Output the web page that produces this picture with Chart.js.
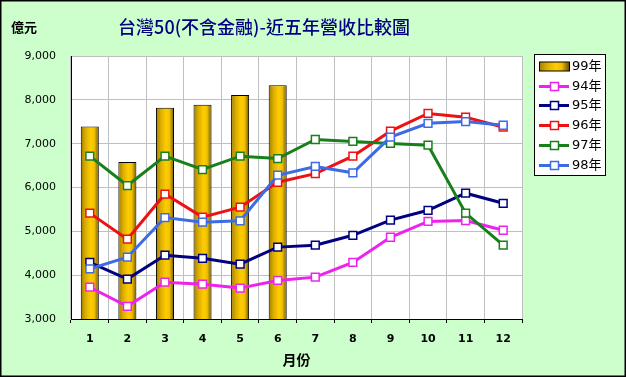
<!DOCTYPE html>
<html>
<head>
<meta charset="utf-8">
<script src="https://cdn.jsdelivr.net/npm/chart.js@4.4.1/dist/chart.umd.min.js"></script>
<style>
  html, body { margin: 0; padding: 0; background: #ccffcc; }
</style>
</head>
<body>
<canvas id="grafico" width="626" height="377"></canvas>
<script>
// 台灣50(不含金融) 月營收, 單位: 億元
const meses = ['1', '2', '3', '4', '5', '6', '7', '8', '9', '10', '11', '12'];
const receita99 = [7390, 6580, 7820, 7890, 8110, 8335];
const receita94 = [3725, 3290, 3840, 3795, 3705, 3880, 3955, 4290, 4865, 5225, 5245, 5025];
const receita95 = [4290, 3910, 4455, 4385, 4250, 4640, 4685, 4910, 5255, 5480, 5870, 5640];
const receita96 = [5415, 4820, 5850, 5325, 5550, 6120, 6315, 6715, 7285, 7690, 7605, 7375];
const receita97 = [6715, 6045, 6715, 6410, 6715, 6660, 7095, 7050, 7005, 6965, 5415, 4685];
const receita98 = [4145, 4410, 5315, 5210, 5240, 6280, 6480, 6335, 7150, 7465, 7505, 7420];
const ticksY = [3000, 4000, 5000, 6000, 7000, 8000, 9000];

const FONTE = '"DejaVu Sans", "Noto Sans CJK TC", sans-serif';
const FONTE_CJK = '"Noto Sans CJK TC", "DejaVu Sans", sans-serif';
const LARGURA_BARRA = 0.48;

function pintarOuro(ctx, x0, x1) {
    const g = ctx.createLinearGradient(x0, 0, x1, 0);
    g.addColorStop(0, '#a07c00');
    g.addColorStop(0.25, '#d8ac00');
    g.addColorStop(0.55, '#ffcc00');
    g.addColorStop(0.75, '#f2c200');
    g.addColorStop(1, '#6e5200');
    return g;
}

function gradienteBarra(context) {
    const chart = context.chart;
    const xScale = chart.scales.x;
    if (!chart.chartArea || !xScale) return '#ffcc00';
    const largura = (xScale.width / meses.length) * LARGURA_BARRA;
    const cx = xScale.getPixelForValue(context.dataIndex);
    return pintarOuro(chart.ctx, cx - largura / 2, cx + largura / 2);
}

function linha(label, data, cor, ordem) {
    return {
        type: 'line',
        label: label,
        data: data,
        borderColor: cor,
        borderWidth: 3,
        pointStyle: 'rect',
        pointRadius: 5.5,
        pointBackgroundColor: '#fff',
        pointBorderColor: cor,
        pointBorderWidth: 1.5,
        tension: 0,
        order: ordem
    };
}

const fundoPlugin = {
    id: 'fundo',
    beforeDraw(chart) {
        const { ctx, chartArea: a } = chart;
        ctx.save();
        ctx.fillStyle = '#ccffcc';
        ctx.fillRect(0, 0, chart.width, chart.height);
        ctx.fillStyle = '#fff';
        ctx.fillRect(a.left, a.top, a.right - a.left, a.bottom - a.top);
        ctx.restore();
    },
    afterDraw(chart) {
        const { ctx } = chart;
        ctx.save();
        // título e unidade
        ctx.textBaseline = 'middle';
        ctx.textAlign = 'center';
        ctx.fillStyle = '#000080';
        ctx.font = '500 18px ' + FONTE_CJK;
        ctx.fillText('台灣50(不含金融)-近五年營收比較圖', 264, 27);
        ctx.textAlign = 'left';
        ctx.fillStyle = '#000';
        ctx.font = 'bold 13px ' + FONTE_CJK;
        ctx.fillText('億元', 11, 27);
        // moldura
        ctx.strokeStyle = '#000';
        ctx.lineWidth = 1.5;
        ctx.strokeRect(0.75, 0.75, chart.width - 1.5, chart.height - 1.5);
        ctx.restore();
    }
};

const legendaPlugin = {
    id: 'legendaLateral',
    afterDraw(chart) {
        const { ctx } = chart;
        const x0 = 534.5, y0 = 54.5, w = 71, h = 121;
        ctx.save();
        ctx.fillStyle = '#fff';
        ctx.fillRect(x0, y0, w, h);
        ctx.strokeStyle = '#000';
        ctx.lineWidth = 1;
        ctx.strokeRect(x0, y0, w, h);
        chart.data.datasets.forEach((ds, i) => {
            const y = Math.round(66 + i * 19.7) + 0.5;
            if (ds.type === 'line') {
                ctx.strokeStyle = ds.borderColor;
                ctx.lineWidth = 3;
                ctx.beginPath();
                ctx.moveTo(539, y);
                ctx.lineTo(569, y);
                ctx.stroke();
                ctx.fillStyle = '#fff';
                ctx.fillRect(550.5, y - 4, 8, 8);
                ctx.lineWidth = 1.5;
                ctx.strokeRect(550.5, y - 4, 8, 8);
            } else {
                ctx.fillStyle = pintarOuro(ctx, 539, 569);
                ctx.fillRect(539.5, y - 4.5, 30, 9);
                ctx.strokeStyle = '#000';
                ctx.lineWidth = 1;
                ctx.strokeRect(539.5, y - 4.5, 30, 9);
            }
            ctx.fillStyle = '#000';
            ctx.font = '13px ' + FONTE;
            ctx.textAlign = 'left';
            ctx.textBaseline = 'middle';
            ctx.fillText(ds.label, 572, y + 0.5);
        });
        ctx.restore();
    }
};

const ctx = document.getElementById('grafico');
new Chart(ctx, {
    type: 'bar',
    data: {
        labels: meses,
        datasets: [
            {
                type: 'bar',
                label: '99年',
                data: receita99,
                backgroundColor: gradienteBarra,
                borderColor: '#000',
                borderWidth: 1,
                barPercentage: LARGURA_BARRA,
                categoryPercentage: 1,
                order: 10
            },
            linha('94年', receita94, '#ee22ee', 5),
            linha('95年', receita95, '#000080', 4),
            linha('96年', receita96, '#ee1111', 3),
            linha('97年', receita97, '#17801a', 2),
            linha('98年', receita98, '#3d6be6', 1)
        ]
    },
    options: {
        responsive: false,
        animation: false,
        events: [],
        layout: { padding: { top: 56, right: 104, left: 0, bottom: 0 } },
        plugins: {
            legend: { display: false },
            tooltip: { enabled: false }
        },
        scales: {
            x: {
                offset: true,
                grid: { color: '#c0c0c0', tickColor: '#000', tickLength: 4, offset: true },
                border: { color: '#000', width: 1 },
                ticks: { color: '#000', padding: 10, font: { family: FONTE, size: 11, weight: 'bold' } },
                title: {
                    display: true,
                    text: '月份',
                    color: '#000',
                    font: { family: FONTE_CJK, size: 14, weight: 'bold' },
                    padding: { top: 0, bottom: 9 }
                },
                afterFit: scale => { scale.height = 58; }
            },
            y: {
                min: ticksY[0],
                max: ticksY[ticksY.length - 1],
                afterBuildTicks: scale => { scale.ticks = ticksY.map(v => ({ value: v })); },
                grid: { color: '#c0c0c0', drawTicks: false },
                border: { color: '#000', width: 1 },
                ticks: {
                    color: '#000',
                    padding: 15,
                    font: { family: FONTE, size: 11 },
                    callback: v => v.toLocaleString('en-US')
                },
                afterFit: scale => { scale.width = 71; }
            }
        }
    },
    plugins: [fundoPlugin, legendaPlugin]
});
</script>
</body>
</html>
